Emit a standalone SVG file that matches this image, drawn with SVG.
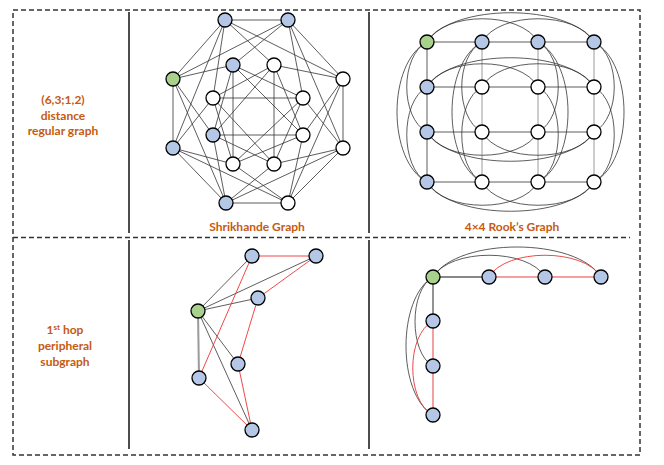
<svg xmlns="http://www.w3.org/2000/svg" width="664" height="465" viewBox="0 0 664 465">
<style>
.frame{fill:none;stroke:#333;stroke-width:1.5;stroke-dasharray:5 3}
.sep{stroke:#111;stroke-width:1.5}
.lbl{font-family:Lato,"Open Sans","Liberation Sans",sans-serif;font-weight:bold;font-size:12px;fill:#c55a11;text-anchor:middle}
.e{stroke:#333;stroke-width:0.8;fill:none}
.eg{stroke:#9a9a9a;stroke-width:1;fill:none}
.a{stroke:#333;stroke-width:0.8;fill:none}
.r{stroke:#ee3333;stroke-width:0.9;fill:none}
.rl{stroke:#f4a0a0;stroke-width:2;fill:none}
.gl{stroke:#888;stroke-width:1.8;fill:none}
.n{stroke:#000;stroke-width:1.3}
.w{fill:#fff}
.b{fill:#b4c7e7}
.g{fill:#a9d18e}
</style>
<rect x="0" y="0" width="664" height="465" fill="#fff"/>
<g id="frame">
<rect class="frame" x="13" y="10" width="627" height="445"/>
<line class="frame" x1="13" y1="237.5" x2="630" y2="237.5"/>
<line class="sep" x1="129" y1="12" x2="129" y2="233"/>
<line class="sep" x1="369" y1="12" x2="369" y2="233"/>
<line class="sep" x1="129" y1="240" x2="129" y2="449"/>
<line class="sep" x1="369" y1="240" x2="369" y2="449"/>
</g>
<g id="labels">
<text class="lbl" x="63" y="103.5">(6,3;1,2)</text>
<text class="lbl" x="63" y="119.5">distance</text>
<text class="lbl" x="63" y="134.5">regular graph</text>
<text class="lbl" x="65" y="334"><tspan>1</tspan><tspan font-size="8" dy="-4">st</tspan><tspan dy="4"> hop</tspan></text>
<text class="lbl" x="65" y="350">peripheral</text>
<text class="lbl" x="65" y="366">subgraph</text>
<text class="lbl" x="257" y="231">Shrikhande Graph</text>
<text class="lbl" x="512" y="231">4×4 Rook’s Graph</text>
</g>
<g id="connectors">
<path class="e" d="M225,20L288,20M288,20L343,79M343,79L343,148M343,148L288,203M288,203L226,203M226,203L173,148M173,148L173,79M173,79L225,20"/>
<path class="e" d="M225,20L343,79M288,20L343,148M343,79L288,203M343,148L226,203M288,203L173,148M226,203L173,79M173,148L225,20M173,79L288,20"/>
<path class="e" d="M225,20L274,65M225,20L213,98M288,20L303,98M288,20L233,65M343,79L303,135M343,79L274,65M343,148L274,164M343,148L303,98M288,203L233,164M288,203L303,135M226,203L213,135M226,203L274,164M173,148L213,98M173,148L233,164M173,79L233,65M173,79L213,135"/>
<path class="e" d="M233,65L303,98M274,65L303,135M303,98L274,164M303,135L233,164M274,164L213,135M233,164L213,98M213,135L233,65M213,98L274,65"/>
<path class="e" d="M233,65L303,135M274,65L274,164M303,98L233,164M303,135L213,135M274,164L213,98M233,164L233,65M213,135L274,65M213,98L303,98"/>
<path class="e" d="M427,42L594,42M427,87L594,87M427,132L594,132M427,182L594,182M427,42L427,182"/>
<path class="eg" d="M482,42L482,182M538,42L538,182M594,42L594,182"/>
<path class="a" d="M427,42C444,11 521,11 538,42M482,42C499,11 577,11 594,42M427,42C452,3 569,3 594,42"/>
<path class="a" d="M427,87C444,56 521,56 538,87M482,87C499,56 577,56 594,87M427,87C452,48 569,48 594,87"/>
<path class="a" d="M427,132C444,163 521,163 538,132M482,132C499,163 577,163 594,132M427,132C452,171 569,171 594,132"/>
<path class="a" d="M427,182C444,213 521,213 538,182M482,182C499,213 577,213 594,182M427,182C452,221 569,221 594,182"/>
<path class="a" d="M427,42C400,56 400,118 427,132M427,87C400,101 400,168 427,182M427,42C387,63 387,161 427,182"/>
<path class="a" d="M482,42C455,56 455,118 482,132M482,87C455,101 455,168 482,182M482,42C442,63 442,161 482,182"/>
<path class="a" d="M538,42C565,56 565,118 538,132M538,87C565,101 565,168 538,182M538,42C578,63 578,161 538,182"/>
<path class="a" d="M594,42C621,56 621,118 594,132M594,87C621,101 621,168 594,182M594,42C634,63 634,161 594,182"/>
<path class="e" d="M198,311L252,256M198,311L316,256M198,311L258,298M198,311L238,364M198,311L252,430"/>
<path class="eg" style="stroke-width:2" d="M198,311L199,378"/>
<path class="r" d="M252,256L316,256L258,298L238,364L252,430L199,378L252,256"/>
<path class="gl" d="M433,277L489,277M433,277L433,321"/>
<path class="rl" d="M489,277L601,277M433,321L433,415"/>
<path class="a" d="M433,277C450,248 528,248 545,277M433,277C458,237 576,237 601,277M433,277C409,290 409,353 433,366M433,277C397,298 397,394 433,415"/>
<path class="r" d="M489,277C506,248 584,248 601,277M433,321C406,335 406,401 433,415"/>
</g>
<g id="shrikhande">
<g id="s-o1"><circle class="n b" cx="225" cy="20" r="7"/></g>
<g id="s-o2"><circle class="n b" cx="288" cy="20" r="7"/></g>
<g id="s-o3"><circle class="n w" cx="343" cy="79" r="7"/></g>
<g id="s-o4"><circle class="n w" cx="343" cy="148" r="7"/></g>
<g id="s-o5"><circle class="n w" cx="288" cy="203" r="7"/></g>
<g id="s-o6"><circle class="n b" cx="226" cy="203" r="7"/></g>
<g id="s-o7"><circle class="n b" cx="173" cy="148" r="7"/></g>
<g id="s-o8"><circle class="n g" cx="173" cy="79" r="7"/></g>
<g id="s-i1"><circle class="n b" cx="233" cy="65" r="7"/></g>
<g id="s-i2"><circle class="n w" cx="274" cy="65" r="7"/></g>
<g id="s-i3"><circle class="n w" cx="303" cy="98" r="7"/></g>
<g id="s-i4"><circle class="n w" cx="303" cy="135" r="7"/></g>
<g id="s-i5"><circle class="n w" cx="274" cy="164" r="7"/></g>
<g id="s-i6"><circle class="n w" cx="233" cy="164" r="7"/></g>
<g id="s-i7"><circle class="n b" cx="213" cy="135" r="7"/></g>
<g id="s-i8"><circle class="n w" cx="213" cy="98" r="7"/></g>
</g>
<g id="rook">
<g id="r-11"><circle class="n g" cx="427" cy="42" r="7"/></g>
<g id="r-12"><circle class="n b" cx="482" cy="42" r="7"/></g>
<g id="r-13"><circle class="n b" cx="538" cy="42" r="7"/></g>
<g id="r-14"><circle class="n b" cx="594" cy="42" r="7"/></g>
<g id="r-21"><circle class="n b" cx="427" cy="87" r="7"/></g>
<g id="r-22"><circle class="n w" cx="482" cy="87" r="7"/></g>
<g id="r-23"><circle class="n w" cx="538" cy="87" r="7"/></g>
<g id="r-24"><circle class="n w" cx="594" cy="87" r="7"/></g>
<g id="r-31"><circle class="n b" cx="427" cy="132" r="7"/></g>
<g id="r-32"><circle class="n w" cx="482" cy="132" r="7"/></g>
<g id="r-33"><circle class="n w" cx="538" cy="132" r="7"/></g>
<g id="r-34"><circle class="n w" cx="594" cy="132" r="7"/></g>
<g id="r-41"><circle class="n b" cx="427" cy="182" r="7"/></g>
<g id="r-42"><circle class="n w" cx="482" cy="182" r="7"/></g>
<g id="r-43"><circle class="n w" cx="538" cy="182" r="7"/></g>
<g id="r-44"><circle class="n w" cx="594" cy="182" r="7"/></g>
</g>
<g id="shrikhande-sub">
<g id="ss-g"><circle class="n g" cx="198" cy="311" r="7"/></g>
<g id="ss-a"><circle class="n b" cx="252" cy="256" r="7"/></g>
<g id="ss-b"><circle class="n b" cx="316" cy="256" r="7"/></g>
<g id="ss-c"><circle class="n b" cx="258" cy="298" r="7"/></g>
<g id="ss-d"><circle class="n b" cx="238" cy="364" r="7"/></g>
<g id="ss-e"><circle class="n b" cx="199" cy="378" r="7"/></g>
<g id="ss-f"><circle class="n b" cx="252" cy="430" r="7"/></g>
</g>
<g id="rook-sub">
<g id="rs-g"><circle class="n g" cx="433" cy="277" r="7"/></g>
<g id="rs-h1"><circle class="n b" cx="489" cy="277" r="7"/></g>
<g id="rs-h2"><circle class="n b" cx="545" cy="277" r="7"/></g>
<g id="rs-h3"><circle class="n b" cx="601" cy="277" r="7"/></g>
<g id="rs-v1"><circle class="n b" cx="433" cy="321" r="7"/></g>
<g id="rs-v2"><circle class="n b" cx="433" cy="366" r="7"/></g>
<g id="rs-v3"><circle class="n b" cx="433" cy="415" r="7"/></g>
</g>
</svg>
